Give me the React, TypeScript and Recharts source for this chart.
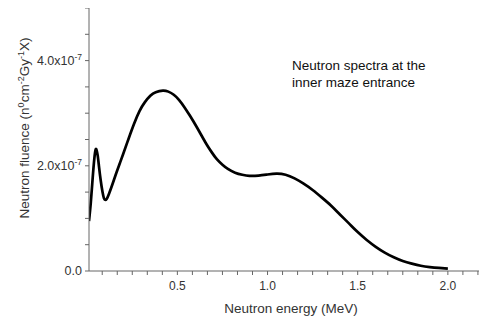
import React from "react";
import { LineChart, Line, XAxis, YAxis } from "recharts";

// Neutron energy (MeV)
const energy = [
  0.01, 0.02, 0.03, 0.04, 0.047, 0.052, 0.058, 0.065, 0.075, 0.085, 0.093, 0.1,
  0.108, 0.12, 0.14, 0.16, 0.18, 0.2, 0.23, 0.26, 0.29, 0.32, 0.35, 0.38, 0.42,
  0.45, 0.48, 0.51, 0.54, 0.57, 0.6, 0.63, 0.66, 0.69, 0.72, 0.75, 0.78, 0.82,
  0.86, 0.9, 0.95, 1.0, 1.05, 1.1, 1.15, 1.2, 1.25, 1.3, 1.35, 1.4, 1.45, 1.5,
  1.55, 1.6, 1.65, 1.7, 1.75, 1.8, 1.85, 1.9, 1.95, 2.0,
];
// Neutron fluence (x10^-7 n cm^-2 Gy^-1 X)
const fluence = [
  0.95, 1.3, 1.75, 2.15, 2.31, 2.3, 2.2, 2.0, 1.72, 1.5, 1.38, 1.35,
  1.37, 1.46, 1.65, 1.85, 2.04, 2.23, 2.52, 2.8, 3.04, 3.21, 3.33, 3.4, 3.43,
  3.41, 3.35, 3.25, 3.11, 2.95, 2.78, 2.6, 2.42, 2.26, 2.12, 2.02, 1.94, 1.87,
  1.83, 1.81, 1.815, 1.835, 1.85, 1.83, 1.76, 1.66, 1.54, 1.4, 1.25, 1.08, 0.91, 0.74,
  0.59, 0.46, 0.35, 0.26, 0.19, 0.14, 0.1, 0.075, 0.058, 0.045,
];

const xMajorTicks = [0.5, 1.0, 1.5, 2.0];
const yMajorTicks = [0, 2, 4];
const xTicks = Array.from({ length: 26 }, (_, i) => (i + 1) / 12);
const yTicks = Array.from({ length: 11 }, (_, i) => i * 0.5);

const data = energy.map((e, i) => ({ e, f: fluence[i] }));

const FONT = "'Liberation Sans', Arial, sans-serif";
const TEXT = "#333";
const AXIS = "#666";

const isMajor = (v: number, majors: number[]) =>
  majors.some((m) => Math.abs(m - v) < 1e-6);

const XTick = (props: any) => {
  const { x, y, payload } = props;
  if (!isMajor(payload.value, xMajorTicks)) return null;
  return (
    <text x={x} y={y} dy="0.71em" textAnchor="middle" fontSize={12} fontFamily={FONT} fill={TEXT}>
      {payload.value.toFixed(1)}
    </text>
  );
};

const YTick = (props: any) => {
  const { x, y, payload } = props;
  if (!isMajor(payload.value, yMajorTicks)) return null;
  const v = payload.value;
  if (v === 0) {
    return (
      <text x={x} y={y} dy="0.35em" textAnchor="end" fontSize={12.5} fontFamily={FONT} fill={TEXT}>
        0.0
      </text>
    );
  }
  return (
    <text x={x} y={y} dy="0.35em" textAnchor="end" fontSize={12.5} fontFamily={FONT} fill={TEXT}>
      {v.toFixed(1) + "x10"}
      <tspan dy={-5} fontSize={8.5}>-7</tspan>
    </text>
  );
};

export default function App() {
  return (
    <div style={{ position: "relative", width: 487, height: 320, margin: "-8px 0 0 -8px" }}>
      <LineChart
        width={487}
        height={320}
        data={data}
        margin={{ top: 8, right: 0, left: 0, bottom: 0 }}
      >
        <XAxis
          type="number"
          dataKey="e"
          domain={[0.01, 2.217]}
          allowDataOverflow
          ticks={xTicks}
          interval={0}
          height={49}
          tickSize={4}
          tickMargin={6}
          tick={<XTick />}
          axisLine={{ stroke: AXIS }}
          tickLine={{ stroke: AXIS }}
        />
        <YAxis
          type="number"
          domain={[0, 5]}
          allowDataOverflow
          ticks={yTicks}
          interval={0}
          width={89}
          tickSize={4}
          tickMargin={3}
          tick={<YTick />}
          axisLine={{ stroke: AXIS }}
          tickLine={{ stroke: AXIS }}
        />
        <Line
          type="natural"
          dataKey="f"
          stroke="#000"
          strokeWidth={2.7}
          dot={false}
          isAnimationActive={false}
        />
      </LineChart>
      <svg
        width={487}
        height={320}
        style={{ position: "absolute", left: 0, top: 0, pointerEvents: "none" }}
      >
        <text x={292} y={70} fontSize={13.5} fontFamily={FONT} fill="#111">
          Neutron spectra at the
        </text>
        <text x={292} y={87} fontSize={13.5} fontFamily={FONT} fill="#111">
          inner maze entrance
        </text>
        <text x={291} y={313} textAnchor="middle" fontSize={13.5} fontFamily={FONT} fill={TEXT}>
          Neutron energy (MeV)
        </text>
        <text
          transform="translate(29,128) rotate(-90)"
          textAnchor="middle"
          fontSize={13.5}
          fontFamily={FONT}
          fill={TEXT}
        >
          Neutron fluence (n<tspan dy={-5} fontSize={9}>0</tspan>
          <tspan dy={5}>cm</tspan>
          <tspan dy={-5} fontSize={9}>-2</tspan>
          <tspan dy={5}>Gy</tspan>
          <tspan dy={-5} fontSize={9}>-1</tspan>
          <tspan dy={5}>X)</tspan>
        </text>
      </svg>
    </div>
  );
}
